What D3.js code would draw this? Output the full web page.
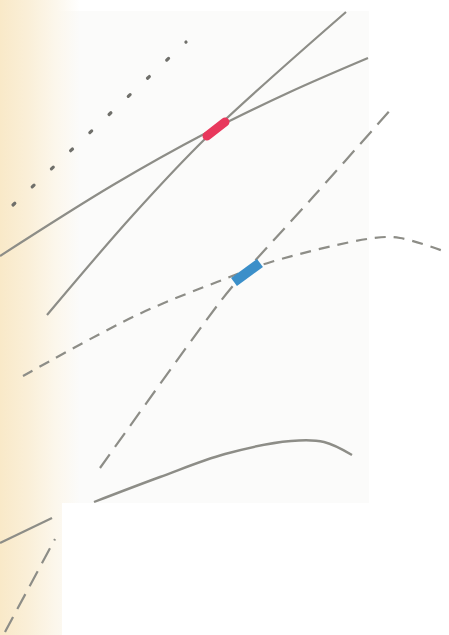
<!DOCTYPE html>
<html>
<head>
<meta charset="utf-8">
<script src="https://cdn.jsdelivr.net/npm/d3@7"></script>
<style>
  html, body { margin: 0; padding: 0; background: #fff; }
  svg { display: block; }
</style>
</head>
<body>
<div id="chart"></div>
<script>
// curve values (x, y in chart units)
const dotted = [[1.3, 43.0], [18.6, 59.3]];
const lineA = [[0, 37.9], [11.3, 45.0], [20.6, 50.2], [29.0, 54.3], [36.8, 57.7]];
const lineB = [[4.7, 32.0], [13.3, 42.0], [20.7, 49.8], [34.6, 62.3]];
const lineC = [[10.0, 16.7], [20.5, 31.3], [23.2, 34.8], [31.3, 43.8], [39.3, 52.8]];
const curveD = [[2.3, 25.9], [13.7, 32.0], [21.7, 35.3], [27.1, 37.3], [37.4, 39.7], [40.0, 39.7], [44.6, 38.3]];
const curveE = [[9.4, 13.3], [16.0, 15.8], [22.5, 18.1], [29.1, 19.4], [32.4, 19.3], [35.2, 18.0]];
const lineF = [[0, 9.2], [5.2, 11.7]];
const lineG = [[0.5, 0.3], [5.5, 9.6]];
const redMark = [[20.7, 49.9], [22.5, 51.3]];
const blueMark = [[23.4, 35.3], [26.0, 37.2]];

const width = 449, height = 635;

const x = d3.scaleLinear().domain([0, 44.9]).range([0, width]);
const y = d3.scaleLinear().domain([0, 63.5]).range([height, 0]);

const svg = d3.select('#chart')
    .append('svg')
    .attr('width', width)
    .attr('height', height);

const defs = svg.append('defs');

// beige page edge on the left, fading into the paper
function edge(id, endColor){
    const g = defs.append('linearGradient')
        .attr('id', id)
        .attr('gradientUnits', 'userSpaceOnUse')
        .attr('x1', 0).attr('x2', 80).attr('y1', 0).attr('y2', 0);
    g.append('stop').attr('offset', 0).attr('stop-color', '#f9e9c8');
    g.append('stop').attr('offset', 0.35).attr('stop-color', '#faefd8');
    g.append('stop').attr('offset', 0.7).attr('stop-color', '#fcf7ec');
    g.append('stop').attr('offset', 1).attr('stop-color', endColor);
}
edge('edge', '#fbfbfa');
edge('edgeTop', '#ffffff');

// the pasted panel and the strips
svg.append('rect').attr('x', 0).attr('y', 11).attr('width', 369).attr('height', 492).attr('fill', '#fbfbfa');
svg.append('rect').attr('x', 0).attr('y', 0).attr('width', 80).attr('height', 11).attr('fill', 'url(#edgeTop)');
svg.append('rect').attr('x', 0).attr('y', 11).attr('width', 80).attr('height', 492).attr('fill', 'url(#edge)');
svg.append('rect').attr('x', 0).attr('y', 503).attr('width', 62).attr('height', 132).attr('fill', 'url(#edge)');

const line = d3.line()
    .x(d => x(d[0]))
    .y(d => y(d[1]))
    .curve(d3.curveCatmullRom.alpha(0.5));

const grey = '#8d8d87';

function draw(data, opts){
    svg.append('path')
        .datum(data)
        .attr('d', line)
        .attr('fill', 'none')
        .attr('stroke', opts.color || grey)
        .attr('stroke-width', opts.w || 2.2)
        .attr('stroke-dasharray', opts.dash || null)
        .attr('stroke-linecap', opts.cap || 'butt');
}

draw(dotted, {color: '#6f6f6a', w: 3.2, dash: '2.5 23.9', cap: 'round'});
draw(lineA, {});
draw(lineB, {});
draw(lineC, {dash: '17 9'});
draw(curveD, {dash: '11 8'});
draw(curveE, {w: 2.4});
draw(lineF, {});
draw(lineG, {dash: '17 9'});

draw(redMark, {color: '#e8385c', w: 9, cap: 'round'});
draw(blueMark, {color: '#3b8fc9', w: 10});
</script>
</body>
</html>
